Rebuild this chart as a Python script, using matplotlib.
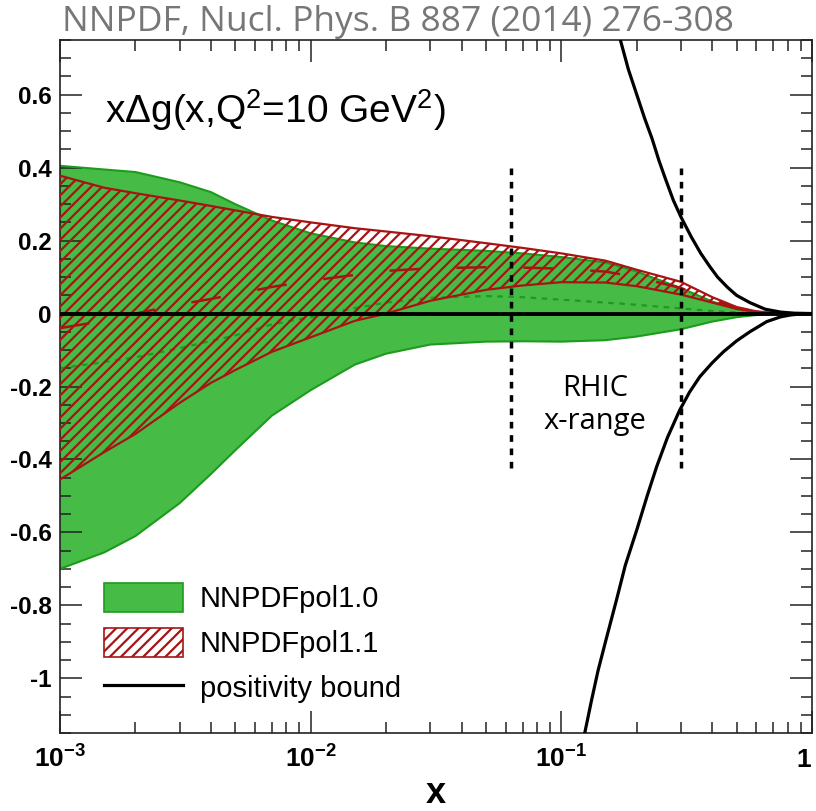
import numpy as np
import matplotlib
matplotlib.use("Agg")
import matplotlib.pyplot as plt
from matplotlib.patches import Patch
from matplotlib.lines import Line2D
from matplotlib.ticker import FixedLocator, NullFormatter, MultipleLocator

plt.rcParams['mathtext.fontset'] = 'custom'
plt.rcParams['mathtext.rm'] = 'Liberation Sans'
plt.rcParams['mathtext.it'] = 'Liberation Sans:italic'
plt.rcParams['mathtext.bf'] = 'Liberation Sans:bold'
plt.rcParams['lines.scale_dashes'] = False
plt.rcParams['hatch.linewidth'] = 1.6

# x grid shared by all bands
x_grid = [1e-3, 1.5e-3, 2e-3, 3e-3, 4e-3, 5e-3, 7e-3, 1e-2, 1.5e-2, 2e-2, 3e-2,
          5e-2, 7e-2, 0.1, 0.15, 0.2, 0.3, 0.4, 0.5, 0.6, 0.7, 0.8, 0.9, 1.0]

# NNPDFpol1.0 band
pol10_up = [0.405, 0.395, 0.388, 0.360, 0.333, 0.300, 0.255, 0.220, 0.195, 0.185, 0.178,
            0.172, 0.165, 0.155, 0.140, 0.115, 0.070, 0.033, 0.012, 0.004, 0.001, 0.0, 0.0, 0.0]
pol10_lo = [-0.700, -0.655, -0.610, -0.520, -0.440, -0.375, -0.280, -0.210, -0.140, -0.110, -0.085,
            -0.077, -0.076, -0.077, -0.073, -0.063, -0.043, -0.022, -0.010, -0.004, -0.001, 0.0, 0.0, 0.0]
pol10_cv = [-0.150, -0.133, -0.120, -0.095, -0.075, -0.060, -0.030, -0.010, 0.015, 0.030, 0.043,
            0.048, 0.045, 0.038, 0.030, 0.024, 0.014, 0.007, 0.003, 0.001, 0.0, 0.0, 0.0, 0.0]

# NNPDFpol1.1 band
pol11_up = [0.378, 0.345, 0.330, 0.310, 0.295, 0.283, 0.265, 0.250, 0.234, 0.225, 0.212,
            0.193, 0.180, 0.165, 0.145, 0.120, 0.087, 0.045, 0.018, 0.006, 0.002, 0.0, 0.0, 0.0]
pol11_lo = [-0.455, -0.380, -0.330, -0.245, -0.190, -0.155, -0.105, -0.065, -0.020, 0.000, 0.035,
            0.065, 0.077, 0.086, 0.085, 0.075, 0.052, 0.030, 0.013, 0.005, 0.001, 0.0, 0.0, 0.0]
pol11_cv = [-0.040, -0.020, 0.000, 0.025, 0.040, 0.053, 0.073, 0.090, 0.106, 0.117, 0.124,
            0.127, 0.126, 0.123, 0.115, 0.100, 0.070, 0.038, 0.015, 0.005, 0.001, 0.0, 0.0, 0.0]

# positivity bound, upper and lower branches
bound_up_x = [0.165, 0.172, 0.185, 0.2, 0.215, 0.23, 0.245, 0.26, 0.28, 0.3, 0.33, 0.36, 0.39,
              0.42, 0.46, 0.5, 0.565, 0.65, 0.75, 0.85, 1.0]
bound_up_v = [0.80, 0.75, 0.67, 0.60, 0.535, 0.48, 0.42, 0.37, 0.31, 0.265, 0.21, 0.165, 0.13,
              0.10, 0.072, 0.05, 0.03, 0.012, 0.004, 0.001, 0.0]
bound_lo_x = [0.118, 0.124, 0.132, 0.14, 0.15, 0.166, 0.18, 0.2, 0.22, 0.24, 0.265, 0.297, 0.325,
              0.357, 0.4, 0.443, 0.5, 0.565, 0.66, 0.75, 0.82, 0.9, 1.0]
bound_lo_v = [-1.22, -1.15, -1.06, -0.98, -0.90, -0.785, -0.69, -0.593, -0.50, -0.42, -0.34, -0.264,
              -0.215, -0.173, -0.135, -0.105, -0.075, -0.05, -0.022, -0.009, -0.004, -0.001, 0.0]

rhic_range = [0.063, 0.3]
rhic_ymin, rhic_ymax = -0.433, 0.40

xticks = [1e-3, 1e-2, 1e-1, 1.0]
xtick_labels = [r'$\mathbf{10^{-3}}$', r'$\mathbf{10^{-2}}$', r'$\mathbf{10^{-1}}$', r'$\mathbf{1}$']
yticks = [-1.0, -0.8, -0.6, -0.4, -0.2, 0.0, 0.2, 0.4, 0.6]
ytick_labels = ['-1', '-0.8', '-0.6', '-0.4', '-0.2', '0', '0.2', '0.4', '0.6']

GREEN = '#46bb46'
GREEN_EDGE = '#1c9c1c'
RED = '#a81414'

fig = plt.figure(figsize=(8.16, 8.11), dpi=100)
ax = fig.add_axes([60 / 816, 78 / 811, 752 / 816, 693 / 811])
ax.set_xscale('log')
ax.set_xlim(1e-3, 1.0)
ax.set_ylim(-1.15, 0.75)

# pol1.0: solid green band
ax.fill_between(x_grid, pol10_lo, pol10_up, facecolor=GREEN, edgecolor='none', zorder=1)
ax.plot(x_grid, pol10_up, color=GREEN_EDGE, lw=1.5, zorder=2)
ax.plot(x_grid, pol10_lo, color=GREEN_EDGE, lw=1.5, zorder=2)
ax.plot(x_grid, pol10_cv, color=GREEN_EDGE, lw=1.6, dashes=(4, 4), zorder=2)

# pol1.1: red hatched band
ax.fill_between(x_grid, pol11_lo, pol11_up, facecolor='none', edgecolor=RED,
                hatch='///', linewidth=0, zorder=3)
ax.plot(x_grid, pol11_up, color=RED, lw=1.6, zorder=4)
ax.plot(x_grid, pol11_lo, color=RED, lw=1.6, zorder=4)
ax.plot(x_grid, pol11_cv, color=RED, lw=1.8, dashes=(21.6, 26.6), zorder=4)

# zero line and positivity bound
ax.axhline(0.0, color='black', lw=2.8, zorder=5)
ax.plot(bound_up_x, bound_up_v, color='black', lw=2.3, zorder=6)
ax.plot(bound_lo_x, bound_lo_v, color='black', lw=2.3, zorder=6)

# RHIC x-range markers
for xr in rhic_range:
    ax.plot([xr, xr], [rhic_ymax, rhic_ymin], color='black', lw=2.5,
            dashes=(4.8, 4.8), zorder=7)
ax.text(0.136, -0.25, 'RHIC\nx-range', ha='center', va='center', fontsize=21,
        family='Open Sans', linespacing=1.2, zorder=8)

ax.text(0.00151, 0.557, r'x$\Delta$g(x,Q$^{2}$=10 GeV$^{2}$)', fontsize=28,
        family='Liberation Sans', ha='left', va='center', zorder=8)

# ticks
ax.set_xticks(xticks)
ax.set_xticklabels(xtick_labels, fontsize=19)
ax.get_xticklabels()[-1].set_horizontalalignment('right')
ax.xaxis.set_minor_locator(FixedLocator([m * 10.0 ** e for e in (-3, -2, -1) for m in range(2, 10)]))
ax.xaxis.set_minor_formatter(NullFormatter())
ax.set_yticks(yticks)
ax.set_yticklabels(ytick_labels, fontsize=17.5, fontweight='bold', family='Liberation Sans')
ax.yaxis.set_minor_locator(MultipleLocator(0.05))
ax.tick_params(which='both', direction='in', top=True, right=True, width=1.1, color='#222222')
ax.tick_params(which='major', length=16)
ax.tick_params(which='minor', length=8)
ax.tick_params(axis='y', which='major', pad=6)
ax.tick_params(axis='x', which='major', pad=10)
for s in ax.spines.values():
    s.set_linewidth(1.2)
    s.set_color('#222222')

# axis title
fig.text(436 / 816, 0.0, 'x', fontsize=26, fontweight='bold', family='Liberation Sans',
         ha='center', va='bottom')

handles = [
    Patch(facecolor=GREEN, edgecolor=GREEN_EDGE, linewidth=1.2),
    Patch(facecolor='white', edgecolor=RED, hatch='///', linewidth=1.2),
    Line2D([], [], color='black', lw=2.3),
]
labels = ['NNPDFpol1.0', 'NNPDFpol1.1', 'positivity bound']
leg = ax.legend(handles, labels, loc='upper left', bbox_to_anchor=(44 / 752, 1 - 543 / 693),
                frameon=False, prop={'family': 'Liberation Sans', 'size': 21},
                handlelength=2.7, handleheight=1.15, labelspacing=0.5,
                handletextpad=0.58, borderpad=0.0, borderaxespad=0.0)
leg.set_zorder(9)

fig.text(62 / 816, 1 - 5 / 811, 'NNPDF, Nucl. Phys. B 887 (2014) 276-308', family='Open Sans',
         fontsize=25.5, color='#777777', ha='left', va='top')

fig.savefig('out.png', dpi=100)
